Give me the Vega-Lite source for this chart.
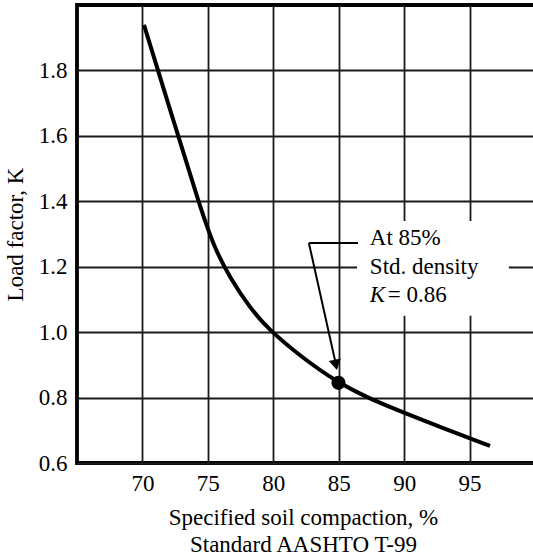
{
  "$schema": "https://vega.github.io/schema/vega-lite/v6.json",
  "width": 458,
  "height": 458,
  "autosize": {"type": "none"},
  "padding": {"left": 77, "top": 5, "right": 0, "bottom": 93},
  "background": "white",
  "config": {
    "view": {"stroke": "black", "strokeWidth": 3.8},
    "font": "'Liberation Serif', 'Times New Roman', 'DejaVu Serif', serif",
    "axis": {
      "domain": false,
      "ticks": false,
      "grid": true,
      "gridColor": "#1a1a1a",
      "gridWidth": 1.8,
      "gridOpacity": 1,
      "labelFont": "'Liberation Serif', 'Times New Roman', 'DejaVu Serif', serif",
      "labelFontSize": 23,
      "labelColor": "black",
      "titleFont": "'Liberation Serif', 'Times New Roman', 'DejaVu Serif', serif",
      "titleFontSize": 23,
      "titleFontWeight": "normal",
      "titleColor": "black"
    }
  },
  "datasets": {
    "curve": [
      {"x": 70.12, "y": 1.939},
      {"x": 72.26, "y": 1.661},
      {"x": 74.4, "y": 1.383},
      {"x": 75.47, "y": 1.26},
      {"x": 76.69, "y": 1.166},
      {"x": 78.22, "y": 1.074},
      {"x": 79.6, "y": 1.01},
      {"x": 82.04, "y": 0.927},
      {"x": 84.95, "y": 0.845},
      {"x": 87.39, "y": 0.796},
      {"x": 90.06, "y": 0.753},
      {"x": 93.12, "y": 0.704},
      {"x": 96.56, "y": 0.652}
    ],
    "mask": [{"x": 86.4, "x2": 98, "y": 1.05, "y2": 1.34}],
    "leader": [
      {"x": 82.72, "y": 1.2726, "x2": 86.47, "y2": 1.2726},
      {"x": 82.72, "y": 1.2726, "x2": 84.85, "y2": 0.89}
    ],
    "marker": [{"x": 84.98, "y": 0.845}],
    "head": [{"x": 84.78, "y": 0.9}],
    "label": [
      {"x": 87.38, "y": 1.266, "text": "At 85%"},
      {"x": 87.38, "y": 1.178, "text": "Std. density"},
      {"x": 88.75, "y": 1.092, "text": "= 0.86"}
    ],
    "labelItalic": [{"x": 87.38, "y": 1.092, "text": "K"}]
  },
  "encoding": {
    "x": {
      "field": "x",
      "type": "quantitative",
      "scale": {"domain": [65, 100], "nice": false, "zero": false},
      "axis": {
        "values": [70, 75, 80, 85, 90, 95, 100],
        "labelExpr": "datum.value == 100 ? '' : datum.label",
        "labelPadding": 9,
        "title": ["Specified soil compaction, %", "Standard AASHTO T-99"],
        "titleLineHeight": 27,
        "titleBaseline": "alphabetic",
        "titleY": 61,
        "titleX": 226
      }
    },
    "y": {
      "field": "y",
      "type": "quantitative",
      "scale": {"domain": [0.6, 2.0], "nice": false, "zero": false},
      "axis": {
        "values": [0.6, 0.8, 1.0, 1.2, 1.4, 1.6, 1.8],
        "format": ".1f",
        "labelPadding": 10,
        "title": "Load factor, K",
        "titleAngle": 270,
        "titleBaseline": "middle",
        "titleAlign": "center",
        "titleX": -62,
        "titleY": 229
      }
    }
  },
  "layer": [
    {
      "data": {"name": "mask"},
      "mark": {"type": "rect", "fill": "white", "stroke": null},
      "encoding": {"x2": {"field": "x2"}, "y2": {"field": "y2"}}
    },
    {
      "data": {"name": "leader"},
      "mark": {"type": "rule", "color": "black", "strokeWidth": 2},
      "encoding": {"x2": {"field": "x2"}, "y2": {"field": "y2"}}
    },
    {
      "data": {"name": "curve"},
      "mark": {"type": "line", "color": "black", "strokeWidth": 4, "interpolate": "basis"}
    },
    {
      "data": {"name": "marker"},
      "mark": {"type": "point", "filled": true, "color": "black", "size": 200, "opacity": 1}
    },
    {
      "data": {"name": "head"},
      "mark": {"type": "point", "shape": "triangle-down", "filled": true, "color": "black", "size": 150, "angle": 348, "opacity": 1}
    },
    {
      "data": {"name": "label"},
      "mark": {"type": "text", "align": "left", "baseline": "alphabetic", "fontSize": 23, "color": "black"},
      "encoding": {"text": {"field": "text"}}
    },
    {
      "data": {"name": "labelItalic"},
      "mark": {"type": "text", "align": "left", "baseline": "alphabetic", "fontSize": 23, "fontStyle": "italic", "color": "black"},
      "encoding": {"text": {"field": "text"}}
    }
  ]
}
